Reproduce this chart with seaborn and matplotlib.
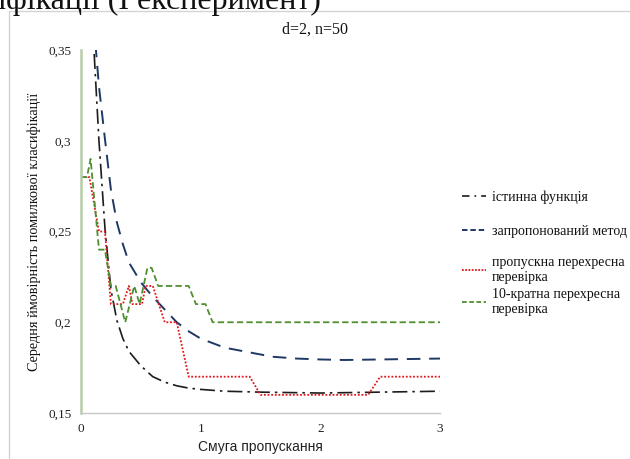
import matplotlib
matplotlib.use("Agg")
import matplotlib.pyplot as plt
from matplotlib.lines import Line2D
from matplotlib.patches import Rectangle
import pandas as pd
import seaborn as sns

# --- data -----------------------------------------------------------------
true_x = [0.05, 0.10, 0.15, 0.20, 0.25, 0.30, 0.35, 0.40, 0.50, 0.60, 0.70,
          0.80, 0.90, 1.00, 1.20, 1.50, 2.00, 2.50, 3.00]
true_y = [0.600, 0.360, 0.300, 0.252, 0.218, 0.201, 0.191, 0.184, 0.176,
          0.170, 0.167, 0.165, 0.1637, 0.163, 0.162, 0.1615, 0.161, 0.1615, 0.162]

prop_x = [0.05, 0.10, 0.15, 0.20, 0.25, 0.30, 0.35, 0.40, 0.50, 0.60, 0.70,
          0.80, 0.90, 1.00, 1.20, 1.40, 1.60, 1.80, 2.00, 2.20, 2.50, 2.80, 3.00]
prop_y = [0.600, 0.370, 0.330, 0.301, 0.273, 0.255, 0.243, 0.233, 0.222,
          0.214, 0.207, 0.200, 0.195, 0.191, 0.186, 0.1835, 0.181, 0.180,
          0.1795, 0.1792, 0.1795, 0.1798, 0.180]

loo_x = [0.00, 0.07, 0.15, 0.20, 0.25, 0.35, 0.40, 0.43, 0.51, 0.54, 0.60,
         0.70, 0.80, 0.90, 1.41, 1.50, 2.40, 2.50, 3.00]
loo_y = [0.28, 0.28, 0.25, 0.25, 0.21, 0.21, 0.22, 0.21, 0.21, 0.22, 0.22,
         0.20, 0.20, 0.17, 0.17, 0.16, 0.16, 0.17, 0.17]

cv10_x = [0.00, 0.05, 0.08, 0.15, 0.20, 0.25, 0.29, 0.37, 0.445, 0.49, 0.555,
          0.59, 0.645, 0.90, 0.96, 1.04, 1.10, 3.00]
cv10_y = [0.28, 0.28, 0.29, 0.24, 0.24, 0.22, 0.22, 0.20, 0.22, 0.21, 0.23,
          0.23, 0.22, 0.22, 0.21, 0.21, 0.20, 0.20]

series_labels = ["істинна функція", "запропонований метод",
                 "пропускна перехресна\nперевірка",
                 "10-кратна перехресна\nперевірка"]
y_ticks = [0.15, 0.20, 0.25, 0.30, 0.35]
y_tick_labels = ["0,15", "0,2", "0,25", "0,3", "0,35"]
x_ticks = [0, 1, 2, 3]
x_tick_labels = ["0", "1", "2", "3"]

# --- styling ----------------------------------------------------------------
sns.set_theme(style="white")
plt.rcParams["font.family"] = ["Liberation Serif", "DejaVu Serif"]

SERIF = ["Liberation Serif", "DejaVu Serif"]
SANS = ["Liberation Sans", "DejaVu Sans"]

colors = ["#1c1c1c", "#1f3864", "#e3161b", "#4f8f2f"]
styles = [(0, (9, 3, 1.5, 3)), (0, (7, 4.5)), (0, (1, 1)), (0, (3.5, 1.8))]
key_styles = [(0, (4.5, 3, 1, 3)), (0, (2.8, 1.5)), (0, (1, 0.8)), (0, (2.6, 1.4))]
widths = [1.2, 1.4, 1.3, 1.3]

fig = plt.figure(figsize=(6.30, 4.59), dpi=100)
W, H = 630, 459

# light frame around the chart area
fig.patches.append(Rectangle((9 / W, -0.05), 1.2, 1 - 11 / H + 0.05,
                             transform=fig.transFigure, fill=False,
                             edgecolor="#d4d4d4", linewidth=1.0))

# heading text of the page above the chart (cut by the top edge)
fig.text(321 / W, 1 - 9 / H, "класифікації (I експеримент)", ha="right",
         va="baseline", fontsize=23, family=SERIF, color="#111111")

ax = fig.add_axes([81 / W, 1 - 413 / H, (440 - 81) / W, (413 - 50) / H])

frames = [
    pd.DataFrame({"x": true_x, "y": true_y}),
    pd.DataFrame({"x": prop_x, "y": prop_y}),
    pd.DataFrame({"x": loo_x, "y": loo_y}),
    pd.DataFrame({"x": cv10_x, "y": cv10_y}),
]
for df, c, ls, lw in zip(frames, colors, styles, widths):
    sns.lineplot(data=df, x="x", y="y", ax=ax, color=c, linestyle=ls,
                 linewidth=lw, estimator=None, sort=False)

ax.set_xlim(0, 3)
ax.set_ylim(0.15, 0.35)
ax.set_xticks(x_ticks)
ax.set_xticklabels(x_tick_labels, family=SERIF, fontsize=9.5)
ax.set_yticks(y_ticks)
ax.set_yticklabels(y_tick_labels, family=SERIF, fontsize=9.5)
ax.tick_params(length=0, pad=7, colors="#222222")
ax.grid(False)
for side in ("top", "right"):
    ax.spines[side].set_visible(False)
ax.spines["left"].set_color("#b7cca8")
ax.spines["left"].set_linewidth(1.8)
ax.spines["bottom"].set_color("#c8c8c8")
ax.spines["bottom"].set_linewidth(1.0)

ax.set_xlabel("Смуга пропускання", family=SANS, fontsize=10, labelpad=4,
              color="#222222")
ax.set_ylabel("Середня ймовірність помилкової класифікації", family=SERIF,
              fontsize=10.3, labelpad=5, color="#111111")

fig.text(0.5, 1 - 30 / H, "d=2, n=50", ha="center", va="center",
         fontsize=11.5, family=SERIF, color="#111111")

# legend, one entry per block so each sits at its own height
legend_y = [197, 231, 270, 302]
for lab, c, ls, lw, yy in zip(series_labels, colors, key_styles, widths,
                              legend_y):
    h = Line2D([], [], color=c, linestyle=ls, linewidth=lw)
    leg = fig.legend([h], [lab], loc="center left",
                     bbox_to_anchor=(462 / W, 1 - yy / H),
                     frameon=False, handlelength=1.75, handletextpad=0.4,
                     borderpad=0, borderaxespad=0,
                     prop={"family": SERIF, "size": 10})
    for t in leg.get_texts():
        t.set_color("#111111")
        t.set_linespacing(1.15)

fig.savefig("out.png", dpi=100)
